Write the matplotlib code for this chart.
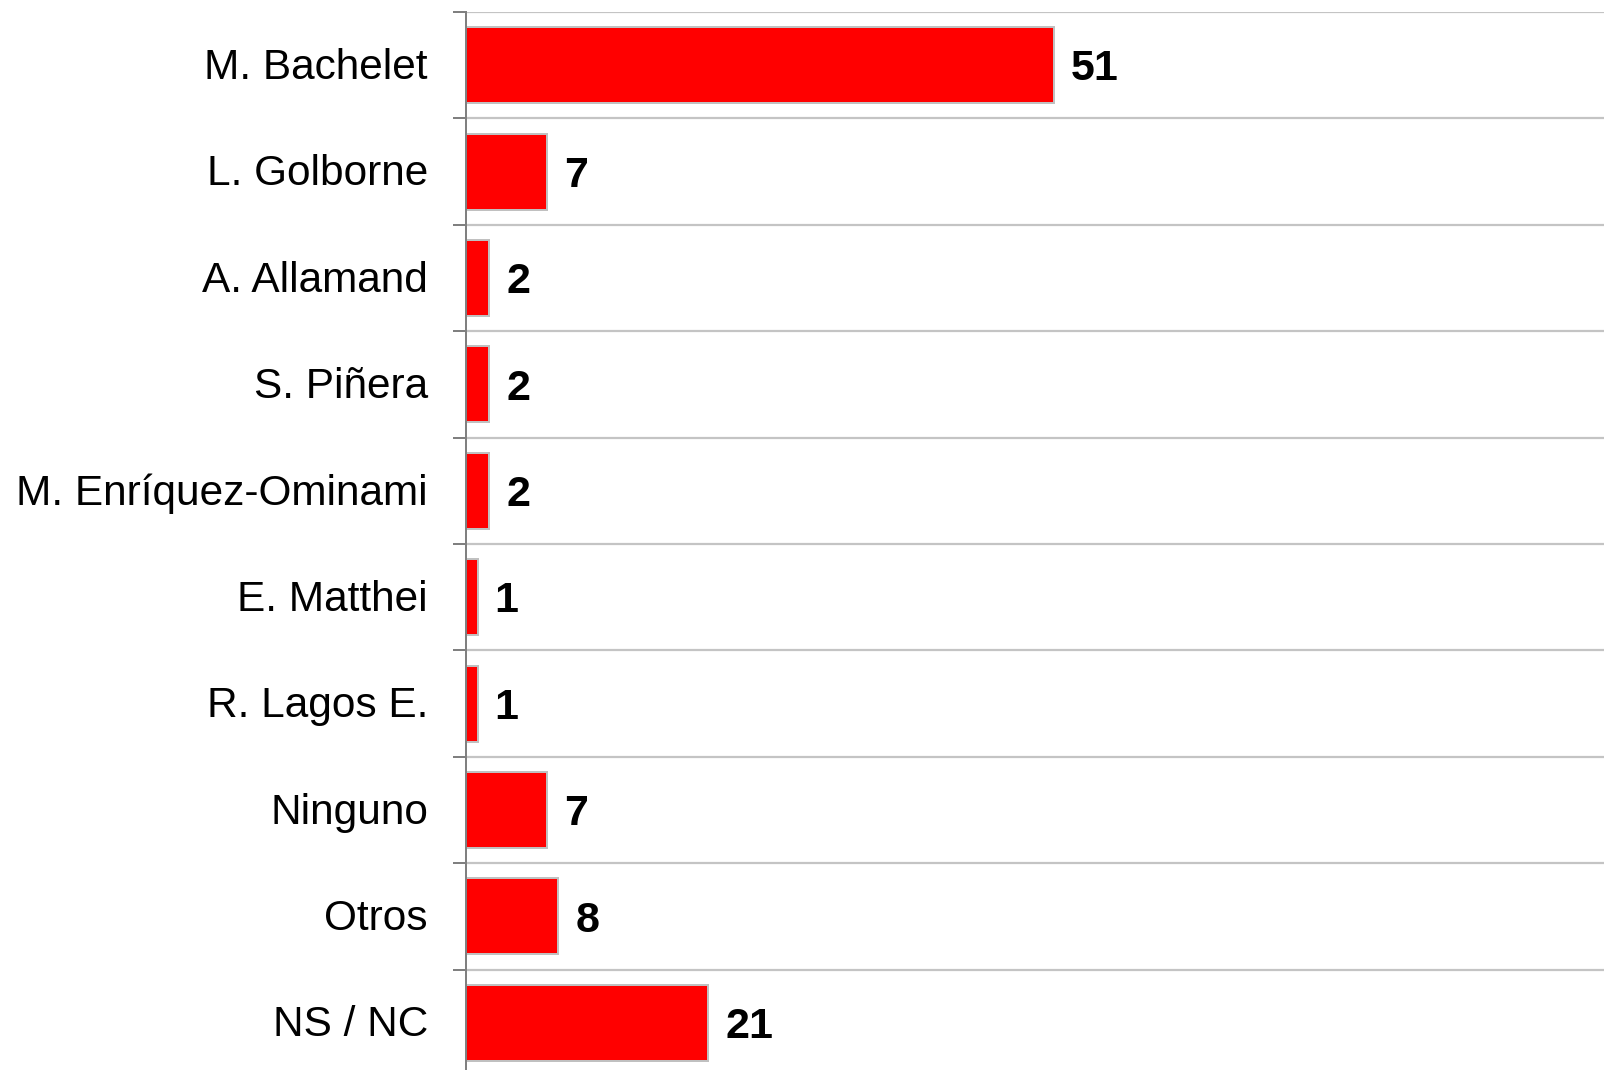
import matplotlib
matplotlib.use("Agg")
import matplotlib.pyplot as plt
import matplotlib.transforms as mtransforms
import numpy as np

plt.rcParams['font.family'] = ['Liberation Sans', 'DejaVu Sans']

categories = ["M. Bachelet", "L. Golborne", "A. Allamand", "S. Piñera",
              "M. Enríquez-Ominami", "E. Matthei", "R. Lagos E.", "Ninguno",
              "Otros", "NS / NC"]
values = [51, 7, 2, 2, 2, 1, 1, 7, 8, 21]

W, H = 1604, 1070
fig = plt.figure(figsize=(W / 100, H / 100), dpi=100)
PT = 72 / 100  # points per pixel

left_px, top_px, band_px = 466, 12, 106.4
n = len(categories)
ax_h = band_px * n
ax = fig.add_axes([left_px / W, 1 - (top_px + ax_h) / H, (W - left_px) / W, ax_h / H])

y = np.arange(n)
ax.barh(y, values, height=0.715, color="#ff0000", edgecolor="#c0c0c0",
        linewidth=2 * PT, zorder=3)

px_per_unit = 588 / 51
ax.set_xlim(0, (W - left_px) / px_per_unit)
ax.set_ylim(n - 0.5, -0.5)

# category separators
bounds = np.arange(n + 1) - 0.5
for b in bounds:
    ax.axhline(b, color="#c4c4c4", linewidth=2.2 * PT, zorder=1)

for yi, v in zip(y, values):
    ax.text(v + 17 / px_per_unit, yi + 0.04, str(v), va="center", ha="left",
            fontsize=31, fontweight="bold", color="black", zorder=4)

ax.set_yticks(y)
ax.set_yticklabels(categories, fontsize=30.5)
ax.tick_params(axis="y", which="major", length=0, pad=38 * PT)
shift = mtransforms.ScaledTranslation(0, 2 / 100, fig.dpi_scale_trans)
for lbl in ax.get_yticklabels():
    lbl.set_transform(lbl.get_transform() + shift)
ax.set_yticks(bounds, minor=True)
ax.tick_params(axis="y", which="minor", length=13 * PT, width=2 * PT, color="#808080")
ax.set_xticks([])

for s in ["top", "right", "bottom"]:
    ax.spines[s].set_visible(False)
ax.spines["left"].set_color("#808080")
ax.spines["left"].set_linewidth(2 * PT)
ax.spines["left"].set_zorder(5)

fig.savefig("out.png", dpi=100, facecolor="white")
